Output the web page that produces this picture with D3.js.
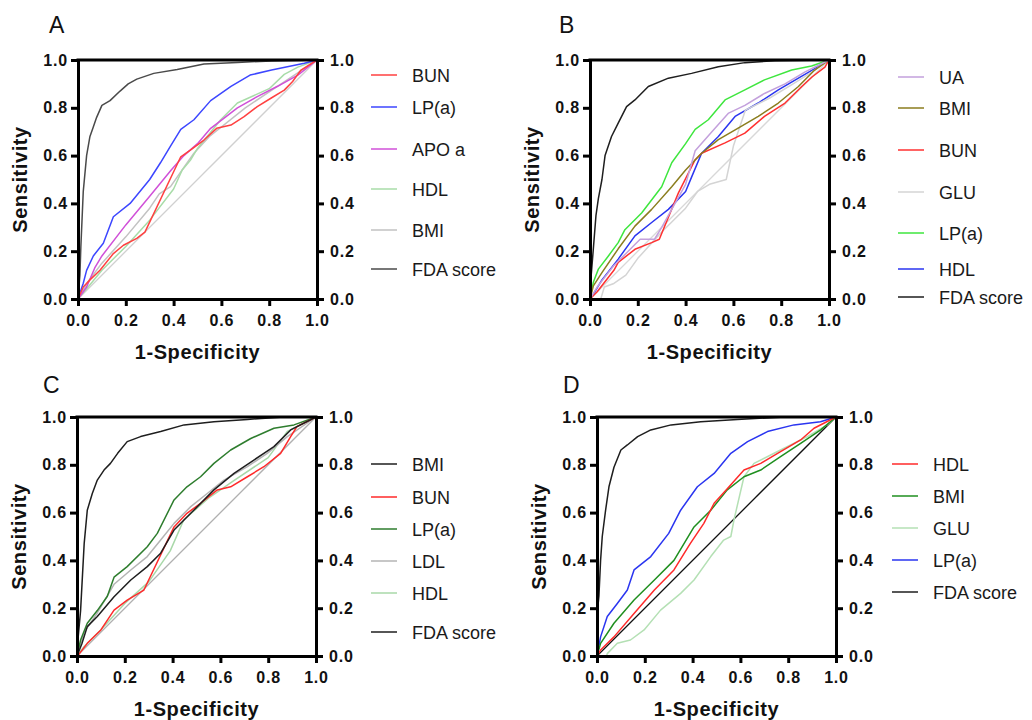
<!DOCTYPE html>
<html>
<head>
<meta charset="utf-8">
<script src="https://cdn.jsdelivr.net/npm/d3@7"></script>
<style>
  body { margin: 0; background: #fff; }
  svg { display: block; }
  text { font-family: "Liberation Sans", Arial, sans-serif; }
</style>
</head>
<body>
<svg id="chart" width="1032" height="720"></svg>
<script>
// tick values shared by every axis
const ticks = [0, 0.2, 0.4, 0.6, 0.8, 1.0];

// ---- panel A : [1-specificity, sensitivity]
const aBUN = [[0,0],[0.022,0.05],[0.05,0.08],[0.092,0.12],[0.148,0.19],[0.19,0.225],[0.246,0.254],[0.28,0.28],[0.43,0.595],[0.47,0.623],[0.527,0.665],[0.58,0.714],[0.64,0.728],[0.695,0.763],[0.75,0.805],[0.807,0.84],[0.863,0.874],[0.898,0.91],[0.933,0.958],[1,1]];
const aLPa = [[0,0],[0.01,0.03],[0.022,0.066],[0.036,0.12],[0.064,0.18],[0.106,0.233],[0.148,0.344],[0.218,0.40],[0.30,0.50],[0.345,0.57],[0.387,0.64],[0.43,0.71],[0.485,0.75],[0.555,0.83],[0.64,0.89],[0.72,0.937],[0.81,0.958],[0.947,0.986],[1,1]];
const aAPO = [[0,0],[0.036,0.05],[0.07,0.13],[0.1,0.18],[0.2,0.31],[0.3,0.43],[0.39,0.54],[0.443,0.60],[0.50,0.65],[0.555,0.714],[0.61,0.756],[0.667,0.80],[0.75,0.847],[0.835,0.89],[0.92,0.937],[1,1]];
const aHDL = [[0,0],[0.05,0.06],[0.1,0.12],[0.2,0.22],[0.3,0.33],[0.4,0.46],[0.436,0.54],[0.47,0.58],[0.5,0.63],[0.597,0.75],[0.667,0.82],[0.8,0.88],[0.863,0.94],[0.92,0.97],[1,1]];
const aBMI = [[0,0],[0.04,0.07],[0.1,0.15],[0.2,0.26],[0.3,0.38],[0.34,0.44],[0.387,0.47],[0.443,0.55],[0.485,0.61],[0.55,0.68],[0.7,0.8],[0.85,0.9],[1,1]];
const aFDA = [[0,0],[0.008,0.1],[0.012,0.22],[0.022,0.45],[0.036,0.6],[0.05,0.68],[0.064,0.72],[0.078,0.76],[0.1,0.81],[0.134,0.83],[0.176,0.87],[0.21,0.9],[0.246,0.92],[0.317,0.944],[0.415,0.96],[0.527,0.983],[0.667,0.99],[0.81,0.996],[1,1]];

// ---- panel B
const bUA = [[0,0],[0.03,0.05],[0.1,0.14],[0.19,0.23],[0.21,0.25],[0.27,0.25],[0.3,0.3],[0.4,0.48],[0.44,0.62],[0.51,0.7],[0.58,0.778],[0.648,0.81],[0.73,0.86],[0.816,0.9],[0.9,0.95],[1,1]];
const bBMI = [[0,0],[0.014,0.055],[0.05,0.11],[0.118,0.21],[0.188,0.305],[0.258,0.375],[0.342,0.47],[0.40,0.54],[0.467,0.61],[0.537,0.667],[0.62,0.715],[0.704,0.764],[0.788,0.82],[0.872,0.889],[0.94,0.958],[1,1]];
const bBUN = [[0,0],[0.03,0.03],[0.1,0.12],[0.118,0.153],[0.188,0.208],[0.258,0.236],[0.29,0.25],[0.37,0.444],[0.44,0.583],[0.467,0.61],[0.565,0.653],[0.648,0.694],[0.73,0.764],[0.816,0.82],[0.886,0.889],[0.93,0.93],[0.983,0.97],[1,1]];
const bGLU = [[0,0],[0.045,0],[0.06,0.05],[0.1,0.065],[0.15,0.1],[0.2,0.17],[0.3,0.28],[0.4,0.38],[0.45,0.45],[0.5,0.48],[0.57,0.5],[0.6,0.64],[0.65,0.79],[0.75,0.84],[0.85,0.9],[0.93,0.95],[1,1]];
const bLPa = [[0,0],[0.014,0.07],[0.035,0.125],[0.077,0.18],[0.118,0.236],[0.146,0.29],[0.216,0.36],[0.30,0.47],[0.342,0.57],[0.40,0.65],[0.44,0.71],[0.495,0.75],[0.565,0.833],[0.648,0.875],[0.73,0.917],[0.844,0.958],[0.927,0.975],[1,1]];
const bHDL = [[0,0],[0.02,0.03],[0.05,0.08],[0.118,0.167],[0.188,0.264],[0.258,0.32],[0.328,0.375],[0.40,0.45],[0.425,0.51],[0.467,0.61],[0.537,0.68],[0.607,0.764],[0.704,0.82],[0.788,0.875],[0.872,0.924],[0.955,0.972],[1,1]];
const bFDA = [[0,0],[0.005,0.1],[0.014,0.21],[0.025,0.35],[0.035,0.42],[0.05,0.5],[0.063,0.6],[0.09,0.68],[0.118,0.736],[0.153,0.805],[0.188,0.833],[0.244,0.889],[0.328,0.924],[0.425,0.944],[0.537,0.972],[0.648,0.989],[0.774,0.997],[1,1]];

// ---- panel C
const cBMI = [[0,0],[0.02,0.05],[0.043,0.123],[0.085,0.165],[0.155,0.248],[0.225,0.318],[0.294,0.374],[0.35,0.43],[0.406,0.527],[0.476,0.597],[0.573,0.695],[0.657,0.764],[0.74,0.82],[0.824,0.876],[0.894,0.946],[1,1]];
const cBUN = [[0,0],[0.01,0.01],[0.043,0.053],[0.1,0.109],[0.155,0.192],[0.21,0.234],[0.28,0.276],[0.406,0.54],[0.46,0.597],[0.517,0.639],[0.587,0.695],[0.643,0.708],[0.713,0.75],[0.782,0.792],[0.852,0.848],[0.894,0.918],[0.92,0.96],[1,1]];
const cLPa = [[0,0],[0.015,0.067],[0.043,0.137],[0.085,0.19],[0.127,0.25],[0.155,0.33],[0.21,0.374],[0.294,0.457],[0.336,0.513],[0.406,0.653],[0.46,0.708],[0.517,0.75],[0.573,0.806],[0.643,0.862],[0.727,0.91],[0.824,0.953],[0.908,0.967],[1,1]];
const cLDL = [[0,0],[0.03,0.1],[0.085,0.18],[0.155,0.3],[0.225,0.36],[0.294,0.416],[0.35,0.485],[0.406,0.555],[0.476,0.625],[0.545,0.68],[0.615,0.736],[0.713,0.792],[0.796,0.848],[0.88,0.918],[1,1]];
const cHDL = [[0,0],[0.03,0.04],[0.1,0.11],[0.2,0.22],[0.3,0.31],[0.39,0.44],[0.447,0.57],[0.55,0.66],[0.65,0.73],[0.8,0.83],[0.88,0.94],[1,1]];
const cFDA = [[0,0],[0.005,0.08],[0.015,0.19],[0.03,0.47],[0.043,0.61],[0.064,0.68],[0.085,0.736],[0.113,0.778],[0.14,0.806],[0.17,0.848],[0.21,0.897],[0.266,0.918],[0.35,0.939],[0.448,0.967],[0.573,0.98],[0.713,0.99],[0.85,0.999],[1,1]];

// ---- panel D
const dHDL = [[0,0],[0.015,0.025],[0.071,0.08],[0.155,0.178],[0.24,0.276],[0.322,0.36],[0.39,0.47],[0.447,0.555],[0.49,0.639],[0.545,0.70],[0.615,0.778],[0.685,0.806],[0.768,0.855],[0.852,0.904],[0.908,0.953],[1,1]];
const dBMI = [[0,0],[0.015,0.053],[0.071,0.137],[0.155,0.234],[0.24,0.318],[0.322,0.40],[0.406,0.54],[0.476,0.61],[0.545,0.695],[0.615,0.75],[0.685,0.778],[0.768,0.834],[0.852,0.89],[0.936,0.946],[1,1]];
const dGLU = [[0,0],[0.04,0],[0.043,0.01],[0.085,0.053],[0.14,0.067],[0.197,0.109],[0.266,0.192],[0.35,0.262],[0.406,0.318],[0.476,0.416],[0.53,0.485],[0.56,0.50],[0.573,0.569],[0.615,0.75],[0.657,0.806],[0.768,0.862],[0.88,0.918],[0.963,0.967],[1,1]];
const dLPa = [[0,0],[0.015,0.08],[0.043,0.165],[0.085,0.22],[0.127,0.276],[0.155,0.36],[0.225,0.416],[0.30,0.513],[0.35,0.61],[0.42,0.708],[0.49,0.764],[0.56,0.848],[0.63,0.897],[0.713,0.939],[0.824,0.967],[0.935,0.98],[1,1]];
const dFDA = [[0,0],[0.003,0.2],[0.008,0.25],[0.015,0.4],[0.022,0.5],[0.036,0.61],[0.05,0.708],[0.071,0.79],[0.1,0.862],[0.127,0.883],[0.17,0.918],[0.225,0.946],[0.31,0.967],[0.434,0.98],[0.587,0.99],[0.768,0.999],[1,1]];

// panel layout + series styles (legend order = listed order)
const panels = [
  {label: "A", left: 78, top: 60, letter: [49, 33], legendX: 371, diag: "#d0d0d0",
   series: [
     {name: "BUN", data: aBUN, color: "#ff4040", ly: 75},
     {name: "LP(a)", data: aLPa, color: "#3c46ff", ly: 107},
     {name: "APO a", data: aAPO, color: "#d050d8", ly: 149},
     {name: "HDL", data: aHDL, color: "#a8dca8", ly: 189},
     {name: "BMI", data: aBMI, color: "#c2c2c2", ly: 230},
     {name: "FDA score", data: aFDA, color: "#4a4a4a", ly: 269}
   ]},
  {label: "B", left: 590, top: 60, letter: [559, 33], legendX: 898, diag: "#d8d8d8",
   series: [
     {name: "UA", data: bUA, color: "#c3a0dc", ly: 77},
     {name: "BMI", data: bBMI, color: "#8b7d1e", ly: 108},
     {name: "BUN", data: bBUN, color: "#ff3030", ly: 150},
     {name: "GLU", data: bGLU, color: "#d4d4d4", ly: 192},
     {name: "LP(a)", data: bLPa, color: "#3ee63e", ly: 233},
     {name: "HDL", data: bHDL, color: "#2a35f0", ly: 269},
     {name: "FDA score", data: bFDA, color: "#1e1e1e", ly: 297}
   ]},
  {label: "C", left: 77, top: 417, letter: [43, 393], legendX: 371, diag: "#b0b0b0",
   series: [
     {name: "BMI", data: cBMI, color: "#1e1e1e", ly: 464},
     {name: "BUN", data: cBUN, color: "#ff2a2a", ly: 497},
     {name: "LP(a)", data: cLPa, color: "#2e7d2e", ly: 529},
     {name: "LDL", data: cLDL, color: "#b4b4b4", ly: 561},
     {name: "HDL", data: cHDL, color: "#a8d8a8", ly: 593},
     {name: "FDA score", data: cFDA, color: "#1e1e1e", ly: 632}
   ]},
  {label: "D", left: 597, top: 417, letter: [563, 393], legendX: 892, diag: "#111111",
   series: [
     {name: "HDL", data: dHDL, color: "#ff2a2a", ly: 464},
     {name: "BMI", data: dBMI, color: "#1f8f1f", ly: 496},
     {name: "GLU", data: dGLU, color: "#b4e0b4", ly: 528},
     {name: "LP(a)", data: dLPa, color: "#2a35f0", ly: 560},
     {name: "FDA score", data: dFDA, color: "#1e1e1e", ly: 592}
   ]}
];

const size = 239;
const svg = d3.select("#chart");
svg.append("rect").attr("width", 1032).attr("height", 720).attr("fill", "#fff");

panels.forEach(p => {
  let g = svg.append("g").attr("transform", `translate(${p.left},${p.top})`);

  let x = d3.scaleLinear().domain([0, 1]).range([0, size]);
  let y = d3.scaleLinear().domain([0, 1]).range([size, 0]);

  // reference diagonal
  g.append("line")
    .attr("x1", x(0)).attr("y1", y(0))
    .attr("x2", x(1)).attr("y2", y(1))
    .attr("stroke", p.diag).attr("stroke-width", 1.3);

  let line = d3.line().x(d => x(d[0])).y(d => y(d[1]));

  // curves, FDA drawn last so it sits on top
  g.selectAll(".roc")
    .data(p.series.slice().reverse())
    .enter().append("path")
    .attr("class", "roc")
    .attr("d", d => line(d.data))
    .attr("fill", "none")
    .attr("stroke", d => d.color)
    .attr("stroke-width", 1.5)
    .attr("stroke-linejoin", "round");

  // axes
  let fmt = d3.format(".1f");
  let styleAxis = sel => {
    sel.select(".domain").attr("stroke", "#000").attr("stroke-width", 3);
    sel.selectAll(".tick line").attr("stroke", "#000").attr("stroke-width", 3);
    sel.selectAll(".tick text")
      .attr("fill", "#111")
      .style("font-size", "16px")
      .style("font-weight", "bold")
      .style("letter-spacing", "0.8px");
  };

  g.append("g")
    .call(d3.axisLeft(y).tickValues(ticks).tickFormat(fmt).tickSize(7).tickSizeOuter(0).tickPadding(3))
    .call(styleAxis);

  g.append("g")
    .attr("transform", `translate(${size},0)`)
    .call(d3.axisRight(y).tickValues(ticks).tickFormat(fmt).tickSize(7).tickSizeOuter(0).tickPadding(6))
    .call(styleAxis);

  g.append("g")
    .attr("transform", `translate(0,${size})`)
    .call(d3.axisBottom(x).tickValues(ticks).tickFormat(fmt).tickSize(7).tickSizeOuter(0).tickPadding(9))
    .call(styleAxis);

  // top border
  g.append("line")
    .attr("x1", -1.5).attr("x2", size + 1.5)
    .attr("y1", 0).attr("y2", 0)
    .attr("stroke", "#000").attr("stroke-width", 3);

  // axis titles
  g.append("text")
    .attr("x", size / 2).attr("y", size + 60)
    .attr("text-anchor", "middle")
    .style("font-size", "20px").style("font-weight", "bold")
    .style("letter-spacing", "0.6px")
    .attr("fill", "#111")
    .text("1-Specificity");

  g.append("text")
    .attr("transform", `translate(-51,${size / 2}) rotate(-90)`)
    .attr("text-anchor", "middle")
    .style("font-size", "20px").style("font-weight", "bold")
    .style("letter-spacing", "0.6px")
    .attr("fill", "#111")
    .text("Sensitivity");

  // panel letter
  svg.append("text")
    .attr("x", p.letter[0]).attr("y", p.letter[1])
    .style("font-size", "23px")
    .attr("fill", "#111")
    .text(p.label);

  // legend
  let leg = svg.append("g");
  p.series.forEach(s => {
    leg.append("line")
      .attr("x1", p.legendX).attr("x2", p.legendX + 26)
      .attr("y1", s.ly).attr("y2", s.ly)
      .attr("stroke", s.color).attr("stroke-width", 1.5);
    leg.append("text")
      .attr("x", p.legendX + 41).attr("y", s.ly + 6.5)
      .style("font-size", "18px")
      .attr("fill", "#1a1a1a")
      .text(s.name);
  });
});
</script>
</body>
</html>
